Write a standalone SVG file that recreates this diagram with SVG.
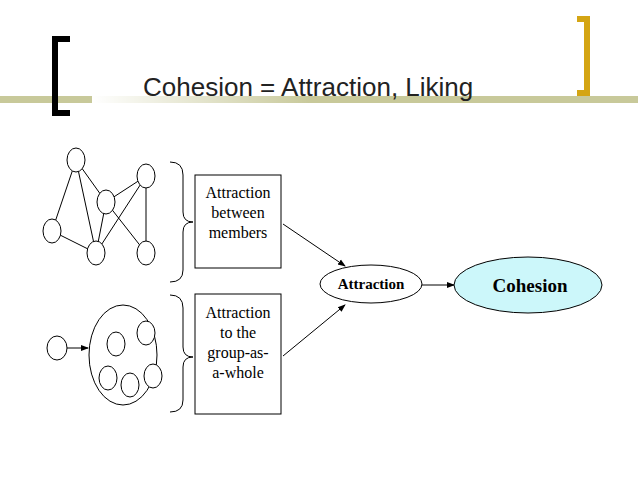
<svg xmlns="http://www.w3.org/2000/svg" width="638" height="479" viewBox="0 0 638 479">
<defs>
<style>
.n{fill:#fff;stroke:#000;stroke-width:1}
.l{stroke:#000;stroke-width:1;fill:none}
.t{font-family:"Liberation Serif",serif;font-size:16px;text-anchor:middle}
</style>
<marker id="a" markerWidth="8" markerHeight="8" refX="7" refY="4" orient="auto" markerUnits="userSpaceOnUse"><path d="M0,1 L8,4 L0,7 Z"/></marker>
<linearGradient id="g" x1="0" x2="1"><stop offset="0" stop-color="#fff" stop-opacity="1"/><stop offset="1" stop-color="#fff" stop-opacity="0"/></linearGradient>
</defs>
<rect width="638" height="479" fill="#fff"/>
<g id="header">
<rect x="0" y="96" width="638" height="7" fill="#c8c99a"/>
<rect x="92" y="96" width="220" height="7" fill="url(#g)"/>
<path d="M70,36 H52 V116 H70 V110 H58 V42 H70 Z" fill="#000"/>
<path d="M577,16 H590 V96 H577 V90 H584 V22 H577 Z" fill="#d4a514"/>
<text x="143" y="96" font-family="Liberation Sans,sans-serif" font-size="26" fill="#222">Cohesion = Attraction, Liking</text>
</g>
<g id="connectors">
<line class="l" x1="76" y1="160" x2="52" y2="231"/>
<line class="l" x1="76" y1="160" x2="96" y2="253"/>
<line class="l" x1="76" y1="160" x2="106" y2="202"/>
<line class="l" x1="106" y1="202" x2="146" y2="176"/>
<line class="l" x1="106" y1="202" x2="146" y2="253"/>
<line class="l" x1="106" y1="202" x2="96" y2="253"/>
<line class="l" x1="146" y1="176" x2="96" y2="253"/>
<line class="l" x1="146" y1="176" x2="146" y2="253"/>
<line class="l" x1="52" y1="231" x2="96" y2="253"/>
<line class="l" x1="67" y1="348" x2="88" y2="348" marker-end="url(#a)"/>
<path class="l" d="M170,162 Q183,162 183,175 V212 Q183,222 193,222 Q183,222 183,232 V270 Q183,282 170,282"/>
<path class="l" d="M170,295 Q183,295 183,308 V347 Q183,357 193,357 Q183,357 183,367 V400 Q183,412 170,412"/>
<line class="l" x1="283" y1="224" x2="345" y2="266" marker-end="url(#a)"/>
<line class="l" x1="283" y1="356" x2="345" y2="305" marker-end="url(#a)"/>
<line class="l" x1="422" y1="285" x2="454" y2="285" marker-end="url(#a)"/>
</g>
<g id="network">
<ellipse class="n" cx="76" cy="160" rx="9" ry="12"/>
<ellipse class="n" cx="146" cy="176" rx="9" ry="12"/>
<ellipse class="n" cx="106" cy="202" rx="9" ry="12"/>
<ellipse class="n" cx="52" cy="231" rx="9" ry="12"/>
<ellipse class="n" cx="96" cy="253" rx="9" ry="12"/>
<ellipse class="n" cx="146" cy="253" rx="9" ry="12"/>
</g>
<g id="group">
<ellipse class="n" cx="57" cy="348" rx="10" ry="12"/>
<ellipse class="n" cx="123" cy="355" rx="34" ry="50"/>
<ellipse class="n" cx="116" cy="344" rx="9" ry="12"/>
<ellipse class="n" cx="146" cy="333" rx="9" ry="12"/>
<ellipse class="n" cx="108" cy="378" rx="9" ry="12"/>
<ellipse class="n" cx="130" cy="385" rx="9" ry="12"/>
<ellipse class="n" cx="153" cy="376" rx="9" ry="12"/>
</g>
<g id="box1">
<rect class="n" x="195" y="175" width="86" height="93"/>
<text class="t" x="238" y="198">Attraction</text>
<text class="t" x="238" y="218">between</text>
<text class="t" x="238" y="238">members</text>
</g>
<g id="box2">
<rect class="n" x="195" y="294" width="86" height="120"/>
<text class="t" x="238" y="318">Attraction</text>
<text class="t" x="238" y="338">to the</text>
<text class="t" x="238" y="358">group-as-</text>
<text class="t" x="238" y="378">a-whole</text>
</g>
<g id="attraction">
<ellipse class="n" cx="371" cy="284" rx="51" ry="19"/>
<text x="371" y="289" font-family="Liberation Serif,serif" font-size="15" font-weight="bold" text-anchor="middle">Attraction</text>
</g>
<g id="cohesion">
<ellipse cx="528" cy="285" rx="74" ry="28" fill="#ccf7fa" stroke="#000"/>
<text x="530" y="292" font-family="Liberation Serif,serif" font-size="19" font-weight="bold" text-anchor="middle">Cohesion</text>
</g>
</svg>
